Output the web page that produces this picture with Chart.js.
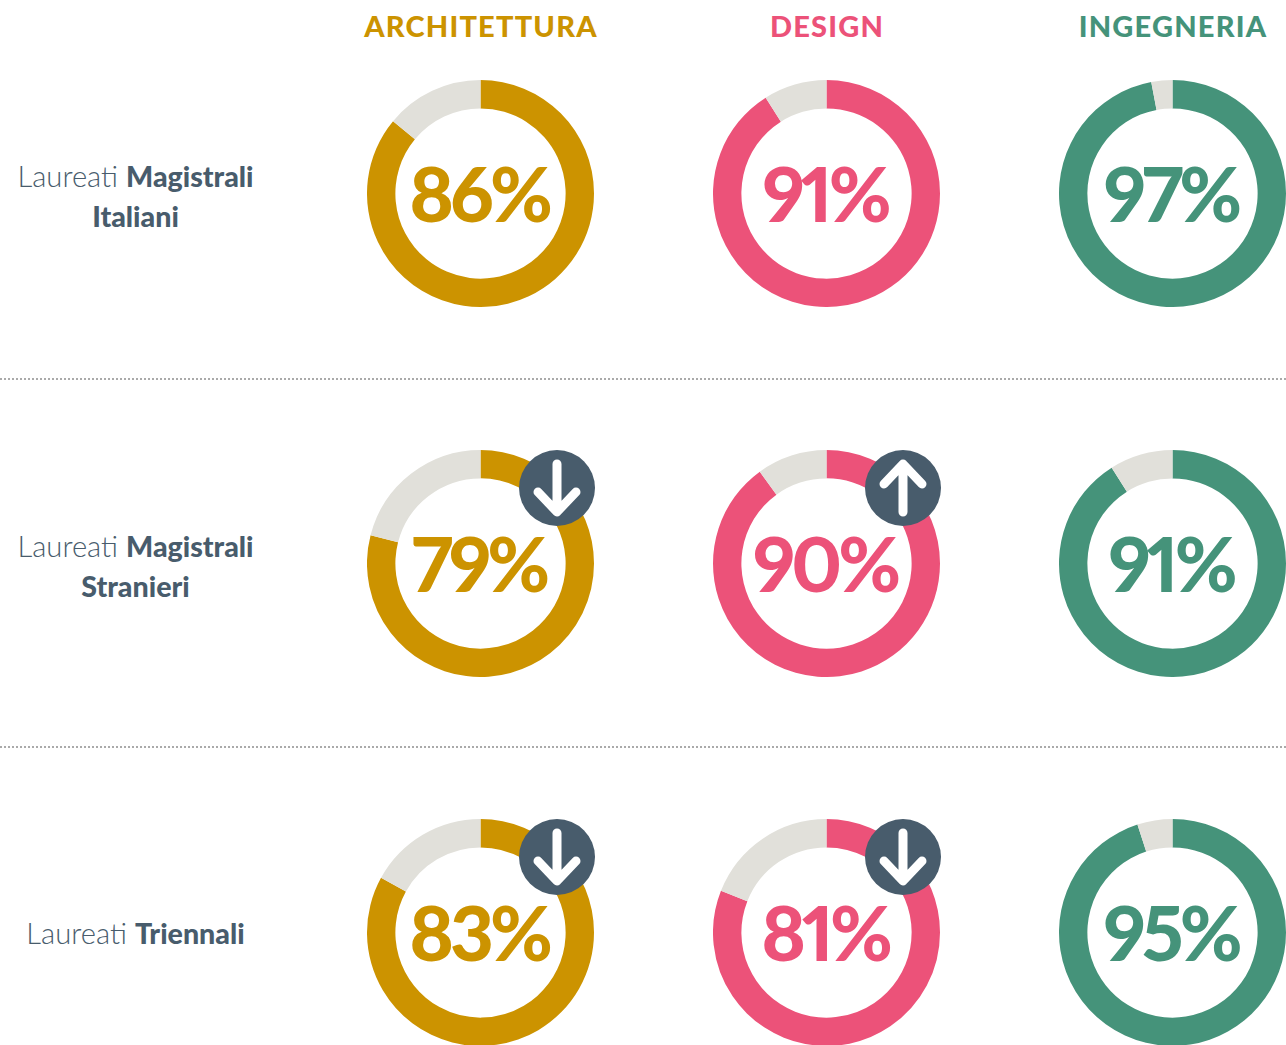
<!DOCTYPE html>
<html><head><meta charset="utf-8">
<script src="https://cdn.jsdelivr.net/npm/chart.js@4"></script>
<style>
html,body{margin:0;padding:0;background:#fff;width:1286px;height:1045px;overflow:hidden}
#wrap{position:relative;width:1286px;height:1045px}
canvas{position:absolute}
.h{position:absolute;top:8px;width:300px;text-align:center;font:900 29px Lato;letter-spacing:1.2px}
.r{position:absolute;left:0;width:271px;text-align:center;font:300 29.2px/39px Lato;color:#485c6c}
.r b{font-weight:900;font-size:28.6px}
.sep{position:absolute;left:0;width:1286px;border-top:2px dotted #aaa}
.v{position:absolute;width:227px;text-align:center;font:900 76px/76px Lato;font-variant-numeric:proportional-nums;letter-spacing:-4px;text-indent:-3px}
.b{position:absolute;width:76px;height:76px;border-radius:50%;background:#485c6c}
</style></head><body><div id="wrap"></div>
<script>
const columns=["ARCHITETTURA","DESIGN","INGEGNERIA"];
const colors=["#cc9300","#ec5279","#45937a"];
const rowsLabels=["Laureati <b>Magistrali</b><br><b>Italiani</b>","Laureati <b>Magistrali</b><br><b>Stranieri</b>","Laureati <b>Triennali</b>"];
const architettura=[86,79,83];
const design=[91,90,81];
const ingegneria=[97,91,95];
const trends=[[0,0,0],[-1,1,0],[-1,-1,0]];
const track="#e1e0da";
const lefts=[367,713,1059], tops=[80,450,819], d=227;
const wrap=document.getElementById("wrap");
const vals=[architettura,design,ingegneria];
function add(cls,css,html){const e=document.createElement("div");e.className=cls;Object.assign(e.style,css);e.innerHTML=html||"";wrap.appendChild(e);return e;}
[378,746].forEach(y=>add("sep",{top:y+"px"}));
columns.forEach((c,i)=>add("h",{left:(lefts[i]+114-150)+"px",color:colors[i]},c));
rowsLabels.forEach((t,r)=>add("r",{top:(r==2?913:tops[r]+76)+"px"},t));
vals.forEach((col,i)=>col.forEach((v,r)=>{
  const cv=document.createElement("canvas");
  cv.style.left=lefts[i]+"px";cv.style.top=tops[r]+"px";cv.style.width=d+"px";cv.style.height=d+"px";
  cv.width=d;cv.height=d;wrap.appendChild(cv);
  new Chart(cv,{type:"doughnut",data:{labels:["Sì","No"],datasets:[{data:[v,100-v],backgroundColor:[colors[i],track],borderWidth:0}]},
    options:{responsive:false,animation:false,cutout:"75%",plugins:{legend:{display:false},tooltip:{enabled:false}},layout:{padding:0}}});
  add("v",{left:lefts[i]+"px",top:(tops[r]+75)+"px",color:colors[i]},v+"%");
  const t=trends[r][i];
  if(t){const bx=lefts[i]+152,by=tops[r];
    const b=add("b",{left:bx+"px",top:by+"px"});
    b.innerHTML='<svg width="76" height="76" viewBox="0 0 76 76" fill="none" stroke="#fff" stroke-width="9" stroke-linecap="round" stroke-linejoin="round">'+(t<0?'<path d="M38 14V60M19 42L38 62L57 42"/>':'<path d="M38 62V16M19 34L38 14L57 34"/>')+'</svg>';}
}));
</script></body></html>
